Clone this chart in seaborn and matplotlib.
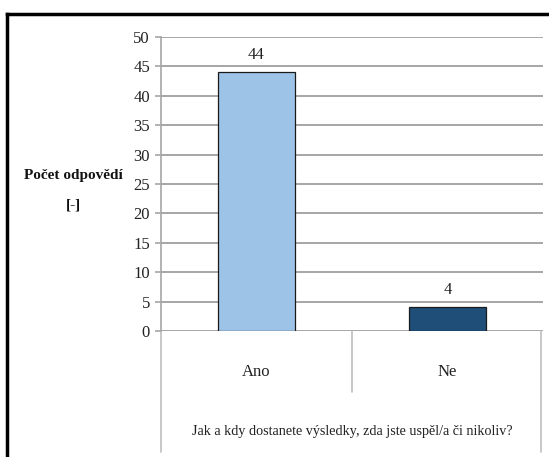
import matplotlib
matplotlib.use("Agg")
import matplotlib.pyplot as plt
from matplotlib.lines import Line2D
import seaborn as sns
import pandas as pd

# Survey answers and their counts
categories = ["Ano", "Ne"]
counts = [44, 4]
bar_colors = ["#9DC3E6", "#1F4E79"]
y_ticks = [0, 5, 10, 15, 20, 25, 30, 35, 40, 45, 50]
question = "Jak a kdy dostanete výsledky, zda jste uspěl/a či nikoliv?"
y_label_lines = ["Počet odpovědí", "[-]"]

sns.set_theme(style="white")
plt.rcParams["font.family"] = ["Liberation Serif", "DejaVu Serif"]

W, H = 549, 457
fig = plt.figure(figsize=(W / 100, H / 100), dpi=100)
fig.patch.set_facecolor("white")

# plot area in pixel coordinates
x0, x1, y_top, y_bot = 161, 543, 37, 331
ax = fig.add_axes([x0 / W, 1 - y_bot / H, (x1 - x0) / W, (y_bot - y_top) / H])

df = pd.DataFrame({"answer": categories, "count": counts})
sns.barplot(data=df, x="answer", y="count", hue="answer", palette=bar_colors,
            saturation=1, width=0.4, edgecolor="#1a1a1a", linewidth=0.9,
            legend=False, ax=ax)

ax.set_ylim(0, 50)
ax.set_xlim(-0.5, 1.5)
ax.set_yticks(y_ticks)
ax.set_yticklabels([str(t) for t in y_ticks], fontsize=12)
ax.yaxis.grid(True, color="#A6A6A6", linewidth=1.4)
ax.set_axisbelow(True)
for side in ["top", "right", "bottom"]:
    ax.spines[side].set_visible(False)
ax.spines["left"].set_color("#A6A6A6")
ax.spines["left"].set_linewidth(1.2)
ax.tick_params(axis="y", length=4, width=1.2, color="#A6A6A6", pad=4, labelcolor="#222222", left=True)
ax.tick_params(axis="x", length=0, labelsize=12, labelcolor="#222222", pad=24)
ax.set_xlabel("")
ax.set_ylabel("")

# value labels above the bars
for cont in ax.containers:
    ax.bar_label(cont, fontsize=12, color="#222222", padding=7)

# table-style category lines under the axis
ph = y_bot - y_top
pw = x1 - x0
def fy(py):
    return (y_bot - py) / ph
line_kw = dict(color="#BFBFBF", linewidth=1.2, transform=ax.transAxes, clip_on=False)
ax.add_line(Line2D([0, 0], [0, fy(452)], **line_kw))
ax.add_line(Line2D([0.5, 0.5], [0, fy(392)], **line_kw))
ax.add_line(Line2D([(541 - x0) / pw] * 2, [0, fy(452)], **line_kw))

ax.text(0.5, fy(432), question, transform=ax.transAxes, ha="center", va="center",
        fontsize=10.2, color="#222222")

# y-axis title
fig.text(73 / W, 1 - 175 / H, y_label_lines[0], ha="center", va="center",
         fontsize=11, fontweight="bold", color="#111111")
fig.text(73 / W, 1 - 205 / H, y_label_lines[1], ha="center", va="center",
         fontsize=11, fontweight="bold", color="#111111")

# outer frame
frame_kw = dict(color="black", linewidth=2.5, transform=fig.transFigure)
fig.add_artist(Line2D([7 / W, 7 / W], [0, 1 - 14 / H], solid_capstyle="projecting", **frame_kw))
fig.add_artist(Line2D([7 / W, 1.0], [1 - 14 / H, 1 - 14 / H], solid_capstyle="projecting", **frame_kw))

fig.savefig("out.png", dpi=100)
